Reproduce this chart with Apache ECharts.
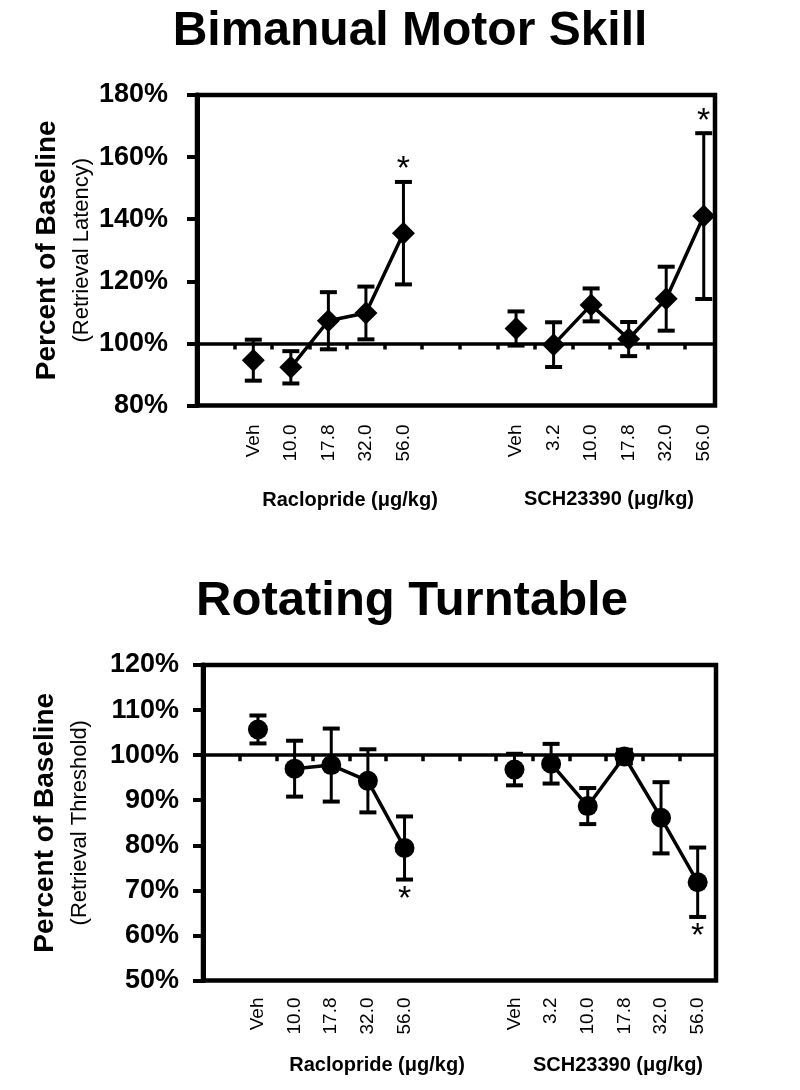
<!DOCTYPE html>
<html><head><meta charset="utf-8">
<script src="https://cdn.jsdelivr.net/npm/echarts@6/dist/echarts.min.js"></script>
<style>html,body{margin:0;padding:0;background:#fff}#c{width:800px;height:1090px}</style>
</head><body><div id="c"></div>
<script>
// ---------- data ----------
const BASELINE = 100;
const slotLabels = ['', 'Veh', '10.0', '17.8', '32.0', '56.0', '', '', 'Veh', '3.2', '10.0', '17.8', '32.0', '56.0'];
const drugNames = ['Raclopride (\u03bcg/kg)', 'SCH23390 (\u03bcg/kg)'];
const titles = ['Bimanual Motor Skill', 'Rotating Turntable'];
const yNames = ['(Retrieval Latency)', '(Retrieval Threshold)'];
const racloSlots = [1, 2, 3, 4, 5];
const schSlots = [8, 9, 10, 11, 12, 13];

// Bimanual Motor Skill (retrieval latency, % of baseline)
const bmsRacloMean = [94.6, 92.3, 107.3, 109.8, 135.5];
const bmsRacloSem  = [6.6, 5.2, 9.2, 8.5, 16.5];
const bmsRacloSig  = [0, 0, 0, 0, 1];
const bmsSchMean = [104.8, 99.6, 112.4, 101.4, 114.4, 141.0];
const bmsSchSem  = [5.5, 7.2, 5.3, 5.5, 10.3, 26.7];
const bmsSchSig  = [0, 0, 0, 0, 0, 1];

// Rotating Turntable (retrieval threshold, % of baseline)
const rtRacloMean = [105.7, 97.0, 97.8, 94.3, 79.4];
const rtRacloSem  = [3.1, 6.2, 8.1, 7.0, 7.0];
const rtRacloSig  = [0, 0, 0, 0, -1];
const rtSchMean = [96.8, 98.1, 88.7, 99.7, 86.1, 71.8];
const rtSchSem  = [3.5, 4.4, 4.0, 1.5, 7.9, 7.7];
const rtSchSig  = [0, 0, 0, 0, 0, -1];

const yAxisTop = [80, 180, 20];
const yAxisBottom = [50, 120, 10];

// ---------- chart ----------
const FONT = 'Liberation Sans';
function pts(slots, mean, sem, sig) {
  return slots.map((s, i) => [s + 0.5, mean[i] - BASELINE, sem[i], sig[i]]);
}

function panel(g, opts) {
  const r = pts(racloSlots, opts.rm, opts.rs, opts.rsig);
  const s = pts(schSlots, opts.sm, opts.ss, opts.ssig);
  const veh = [r[0], s[0]];
  const xAxes = [
    { gridIndex: g, type: 'value', position: 'bottom', min: 0, max: opts.xMax, interval: 1,
      axisLine: { show: true, onZero: true, lineStyle: { color: '#000', width: 3.5 } },
      axisTick: { show: true, inside: false, length: 6, lineStyle: { color: '#000', width: 3.5 } },
      axisLabel: { show: false }, splitLine: { show: false } },
    { gridIndex: g, type: 'value', position: 'bottom', min: 0, max: opts.xMax, interval: 0.5,
      axisLine: { show: false, onZero: false }, axisTick: { show: false }, splitLine: { show: false },
      axisLabel: { show: true, rotate: 90, margin: opts.xLabelMargin, color: '#000', fontSize: 19,
        fontFamily: FONT, hideOverlap: false, showMinLabel: true, showMaxLabel: true,
        formatter: v => { const k = v - 0.5; return Number.isInteger(k) && slotLabels[k] ? slotLabels[k] : ''; } } }
  ];
  const yAxis = { gridIndex: g, type: 'value', min: opts.y[0] - BASELINE, max: opts.y[1] - BASELINE, interval: opts.y[2],
    axisLine: { show: true, onZero: false, lineStyle: { color: '#000', width: 5 } },
    axisTick: { show: true, inside: false, length: 10, lineStyle: { color: '#000', width: 4 } },
    splitLine: { show: false },
    axisLabel: { margin: opts.yLabelMargin, color: '#000', fontSize: 27, fontWeight: 'bold', fontFamily: FONT,
      formatter: v => (v + BASELINE) + '%' },
    name: '{a|Percent of Baseline}\n{b|' + opts.yName + '}',
    nameLocation: 'middle', nameRotate: 90, nameGap: opts.nameGap, nameMoveOverlap: false,
    nameTextStyle: { rich: {
      a: { fontSize: 28, fontWeight: 'bold', fontFamily: FONT, color: '#000', lineHeight: 38 },
      b: { fontSize: 22, fontFamily: FONT, color: '#000', lineHeight: 32 } } }
  };
  const xi = g * 2;
  const mk = { symbol: opts.symbol, symbolSize: opts.symbolSize, itemStyle: { color: '#000', opacity: 1 } };
  const series = [
    { type: 'custom', xAxisIndex: xi, yAxisIndex: g, z: 2, data: r.concat(s), encode: { x: 0, y: 1 },
      renderItem: (params, api) => {
        const x = api.value(0), m = api.value(1), e = api.value(2), sg = api.value(3);
        const hi = api.coord([x, m + e]), lo = api.coord([x, m - e]);
        const cw = 8.5;
        const ch = [
          { type: 'line', shape: { x1: hi[0], y1: hi[1], x2: lo[0], y2: lo[1] }, style: { stroke: '#000', lineWidth: 3 } },
          { type: 'line', shape: { x1: hi[0] - cw, y1: hi[1], x2: hi[0] + cw, y2: hi[1] }, style: { stroke: '#000', lineWidth: 4 } },
          { type: 'line', shape: { x1: lo[0] - cw, y1: lo[1], x2: lo[0] + cw, y2: lo[1] }, style: { stroke: '#000', lineWidth: 4 } }
        ];
        if (sg) {
          ch.push({ type: 'text', x: hi[0], y: sg > 0 ? hi[1] - 12 : lo[1] + 20,
            style: { text: '*', font: '34px "' + FONT + '"', fill: '#000', align: 'center', verticalAlign: 'middle' } });
        }
        return { type: 'group', children: ch };
      } },
    Object.assign({ type: 'scatter', xAxisIndex: xi, yAxisIndex: g, z: 3, data: veh }, mk),
    Object.assign({ type: 'line', xAxisIndex: xi, yAxisIndex: g, z: 3, data: r.slice(1), showSymbol: true,
      lineStyle: { color: '#000', width: 3.5 } }, mk),
    Object.assign({ type: 'line', xAxisIndex: xi, yAxisIndex: g, z: 3, data: s.slice(1), showSymbol: true,
      lineStyle: { color: '#000', width: 3.5 } }, mk)
  ];
  return { xAxes, yAxis, series };
}

const p1 = panel(0, { rm: bmsRacloMean, rs: bmsRacloSem, rsig: bmsRacloSig, sm: bmsSchMean, ss: bmsSchSem, ssig: bmsSchSig,
  y: yAxisTop, yName: yNames[0], xMax: 13.8, symbol: 'diamond', symbolSize: 23, xLabelMargin: 19, yLabelMargin: 29, nameGap: 99 });
const p2 = panel(1, { rm: rtRacloMean, rs: rtRacloSem, rsig: rtRacloSig, sm: rtSchMean, ss: rtSchSem, ssig: rtSchSig,
  y: yAxisBottom, yName: yNames[1], xMax: 14, symbol: 'circle', symbolSize: 20, xLabelMargin: 17, yLabelMargin: 24, nameGap: 107 });

const gridStyle = { show: true, borderColor: '#000', borderWidth: 4.5, backgroundColor: 'transparent', containLabel: false, outerBoundsMode: 'none' };
const txt = (t, x, y, size, bold) => ({ type: 'text', x: x, y: y,
  style: { text: t, fill: '#000', font: (bold ? 'bold ' : '') + size + 'px "' + FONT + '"', align: 'center', verticalAlign: 'middle' } });

const option = {
  animation: false,
  backgroundColor: '#fff',
  grid: [
    Object.assign({ left: 197, top: 95, width: 518, height: 310.5 }, gridStyle),
    Object.assign({ left: 203, top: 665, width: 513, height: 315.5 }, gridStyle)
  ],
  xAxis: p1.xAxes.concat(p2.xAxes),
  yAxis: [p1.yAxis, p2.yAxis],
  series: p1.series.concat(p2.series),
  graphic: [
    txt(titles[0], 410, 32, 48, true),
    txt(titles[1], 412, 601, 49, true),
    txt(drugNames[0], 350, 500, 20, true),
    txt(drugNames[1], 609, 499, 20, true),
    txt(drugNames[0], 377, 1065, 20, true),
    txt(drugNames[1], 618, 1065, 20, true)
  ]
};
const chart = echarts.init(document.getElementById('c'), null, { renderer: 'canvas' });
chart.setOption(option);
</script></body></html>
